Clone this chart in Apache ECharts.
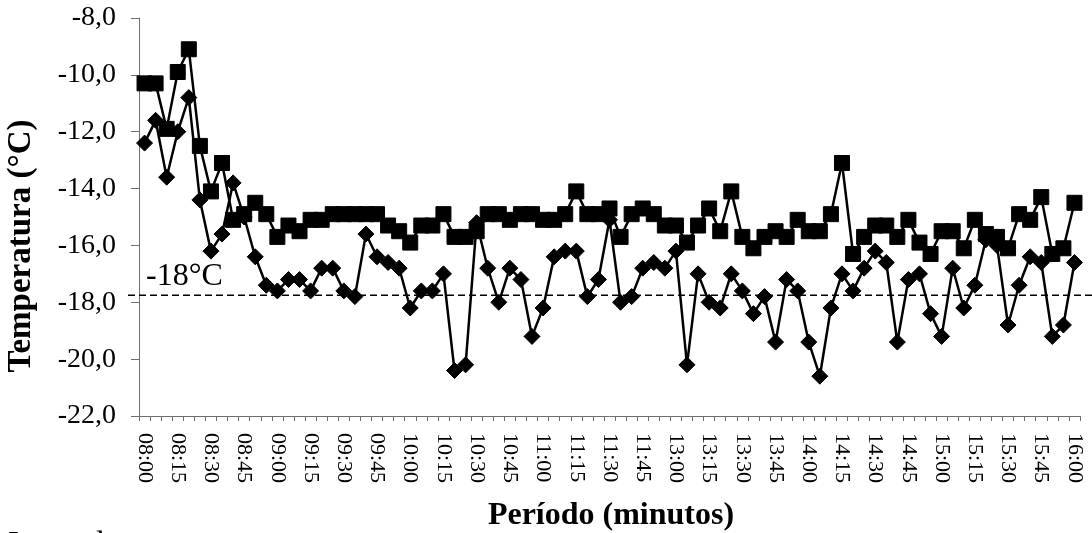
<!DOCTYPE html>
<html>
<head>
<meta charset="utf-8">
<script src="https://cdn.jsdelivr.net/npm/echarts@6/dist/echarts.min.js"></script>
<style>
  html, body { margin: 0; padding: 0; background: #fff; }
  #chart { width: 1092px; height: 533px; }
</style>
</head>
<body>
<div id="chart"></div>
<script>
// Sampling times (5-minute readings, morning and afternoon periods)
const periodos = [
  '08:00','08:05','08:10','08:15','08:20','08:25','08:30','08:35','08:40','08:45','08:50','08:55',
  '09:00','09:05','09:10','09:15','09:20','09:25','09:30','09:35','09:40','09:45','09:50','09:55',
  '10:00','10:05','10:10','10:15','10:20','10:25','10:30','10:35','10:40','10:45','10:50','10:55',
  '11:00','11:05','11:10','11:15','11:20','11:25','11:30','11:35','11:40','11:45','11:50','11:55',
  '13:00','13:05','13:10','13:15','13:20','13:25','13:30','13:35','13:40','13:45','13:50','13:55',
  '14:00','14:05','14:10','14:15','14:20','14:25','14:30','14:35','14:40','14:45','14:50','14:55',
  '15:00','15:05','15:10','15:15','15:20','15:25','15:30','15:35','15:40','15:45','15:50','15:55',
  '16:00'
];

// Temperature readings, square markers (°C)
const serieQuadrado = [
  -10.3, -10.3, -11.9, -9.9, -9.1, -12.5, -14.1, -13.1, -15.1, -14.9, -14.5, -14.9,
  -15.7, -15.3, -15.5, -15.1, -15.1, -14.9, -14.9, -14.9, -14.9, -14.9, -15.3, -15.5,
  -15.9, -15.3, -15.3, -14.9, -15.7, -15.7, -15.5, -14.9, -14.9, -15.1, -14.9, -14.9,
  -15.1, -15.1, -14.9, -14.1, -14.9, -14.9, -14.7, -15.7, -14.9, -14.7, -14.9, -15.3,
  -15.3, -15.9, -15.3, -14.7, -15.5, -14.1, -15.7, -16.1, -15.7, -15.5, -15.7, -15.1,
  -15.5, -15.5, -14.9, -13.1, -16.3, -15.7, -15.3, -15.3, -15.7, -15.1, -15.9, -16.3,
  -15.5, -15.5, -16.1, -15.1, -15.6, -15.7, -16.1, -14.9, -15.1, -14.3, -16.3, -16.1,
  -14.5
];

// Temperature readings, diamond markers (°C)
const serieLosango = [
  -12.4, -11.6, -13.6, -12.0, -10.8, -14.4, -16.2, -15.6, -13.8, -15.0, -16.4, -17.4,
  -17.6, -17.2, -17.2, -17.6, -16.8, -16.8, -17.6, -17.8, -15.6, -16.4, -16.6, -16.8,
  -18.2, -17.6, -17.6, -17.0, -20.4, -20.2, -15.2, -16.8, -18.0, -16.8, -17.2, -19.2,
  -18.2, -16.4, -16.2, -16.2, -17.8, -17.2, -15.1, -18.0, -17.8, -16.8, -16.6, -16.8,
  -16.2, -20.2, -17.0, -18.0, -18.2, -17.0, -17.6, -18.4, -17.8, -19.4, -17.2, -17.6,
  -19.4, -20.6, -18.2, -17.0, -17.6, -16.8, -16.2, -16.6, -19.4, -17.2, -17.0, -18.4,
  -19.2, -16.8, -18.2, -17.4, -15.8, -16.0, -18.8, -17.4, -16.4, -16.6, -19.2, -18.8,
  -16.6
];

// Reference temperature line
const limiteTemperatura = -17.75;
const limiteRotulo = '-18°C';

const serif = '"Liberation Serif", "Times New Roman", serif';
const chart = echarts.init(document.getElementById('chart'));

chart.setOption({
  animation: false,
  backgroundColor: '#ffffff',
  grid: { left: 139, right: 12, top: 18, bottom: 117, containLabel: false },
  xAxis: {
    type: 'category',
    data: periodos,
    boundaryGap: true,
    axisLine: { lineStyle: { color: '#6f6f6f', width: 1 } },
    axisTick: { show: true, interval: 0, alignWithLabel: false, length: 5, lineStyle: { color: '#6f6f6f' } },
    axisLabel: {
      interval: 2,
      rotate: -90,
      margin: 17,
      color: '#000',
      fontFamily: serif,
      fontSize: 22
    },
    splitLine: { show: false }
  },
  yAxis: {
    type: 'value',
    min: -22,
    max: -8,
    interval: 2,
    axisLine: { show: true, lineStyle: { color: '#6f6f6f', width: 1 } },
    axisTick: { show: true, length: 8, lineStyle: { color: '#6f6f6f' } },
    axisLabel: {
      margin: 23,
      color: '#000',
      fontFamily: serif,
      fontSize: 28,
      formatter: v => v.toFixed(1).replace('.', ',')
    },
    splitLine: { show: false }
  },
  series: [
    {
      name: 'Quadrado',
      type: 'line',
      data: serieQuadrado,
      symbol: 'rect',
      symbolSize: 15,
      showAllSymbol: true,
      lineStyle: { color: '#000', width: 2.5 },
      itemStyle: { color: '#000', borderColor: '#000', borderWidth: 1 },
      z: 3
    },
    {
      name: 'Losango',
      type: 'line',
      data: serieLosango,
      symbol: 'diamond',
      symbolSize: [16, 16],
      showAllSymbol: true,
      lineStyle: { color: '#000', width: 2.5 },
      itemStyle: { color: '#000', borderColor: '#000', borderWidth: 1 },
      z: 4
    }
  ]
});

// Dashed reference line, placed through the value axis scale
const yLimite = chart.convertToPixel({ yAxisIndex: 0 }, limiteTemperatura);

chart.setOption({
  graphic: [
    {
      type: 'line',
      shape: { x1: 128, y1: yLimite, x2: 1092, y2: yLimite },
      style: { stroke: '#000', lineWidth: 1.6, lineDash: [7, 4] },
      z: 2
    },
    {
      type: 'text',
      x: 146,
      y: yLimite - 19,
      style: { text: limiteRotulo, font: '32px ' + serif, fill: '#000', align: 'left', verticalAlign: 'middle' },
      z: 5
    },
    {
      type: 'text',
      x: 21,
      y: 246,
      rotation: Math.PI / 2,
      style: { text: 'Temperatura (°C)', font: 'bold 33px ' + serif, fill: '#000', align: 'center', verticalAlign: 'middle' }
    },
    {
      type: 'text',
      x: 611,
      y: 516,
      style: { text: 'Período (minutos)', font: 'bold 32px ' + serif, fill: '#000', align: 'center', verticalAlign: 'middle' }
    },
    {
      type: 'text',
      x: 8,
      y: 545,
      style: { text: 'Legenda:', font: '32px ' + serif, fill: '#000', align: 'left', verticalAlign: 'middle' }
    }
  ]
});
</script>
</body>
</html>
